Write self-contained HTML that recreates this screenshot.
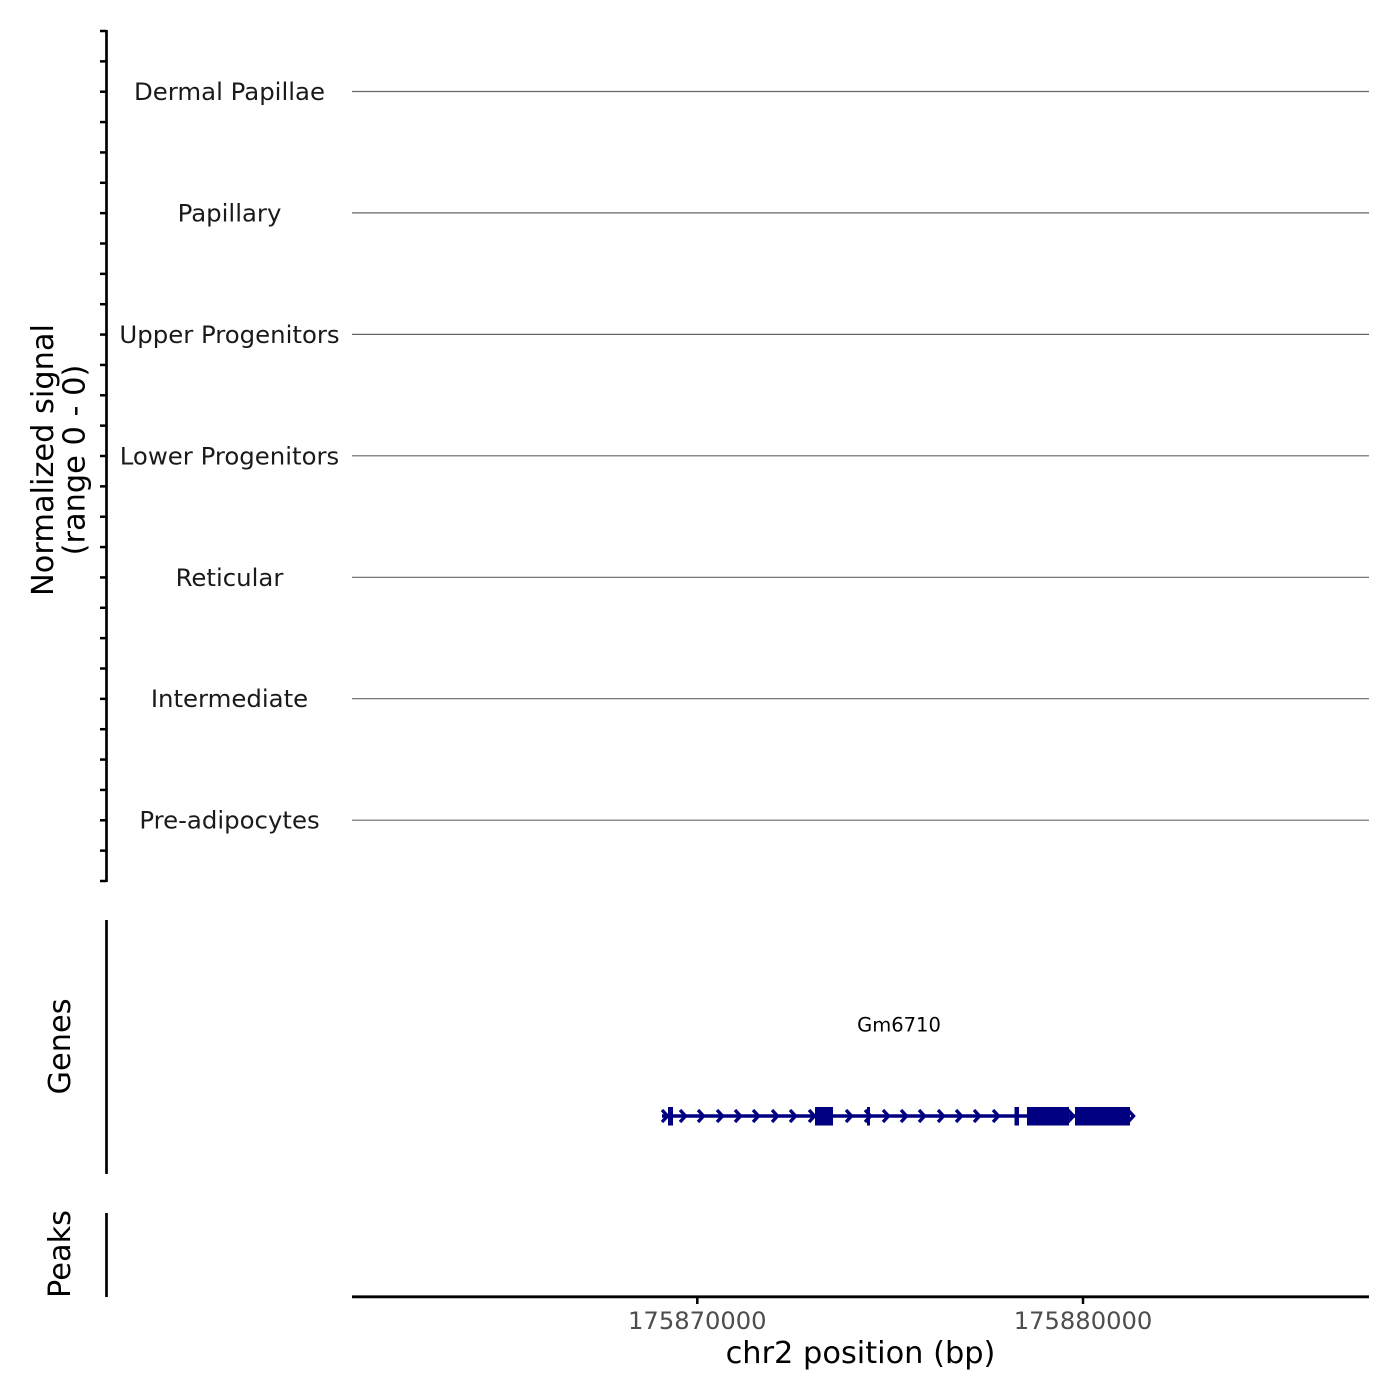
<!DOCTYPE html>
<html>
<head>
<meta charset="utf-8">
<style>
html,body{margin:0;padding:0;background:#fff;}
svg{display:block;}
text{font-family:"DejaVu Sans","Liberation Sans",sans-serif;}
</style>
</head>
<body>
<svg width="1400" height="1400" viewBox="0 0 1400 1400" xmlns="http://www.w3.org/2000/svg">
<rect width="1400" height="1400" fill="#fff"/>

<!-- Signal axis -->
<line x1="106.5" y1="30" x2="106.5" y2="882" stroke="#000" stroke-width="2.7"/>
<g stroke="#000" stroke-width="2.5">
<line x1="100" y1="31" x2="106.5" y2="31"/>
<line x1="100" y1="61.36" x2="106.5" y2="61.36"/>
<line x1="100" y1="91.71" x2="106.5" y2="91.71"/>
<line x1="100" y1="122.07" x2="106.5" y2="122.07"/>
<line x1="100" y1="152.43" x2="106.5" y2="152.43"/>
<line x1="100" y1="182.79" x2="106.5" y2="182.79"/>
<line x1="100" y1="213.14" x2="106.5" y2="213.14"/>
<line x1="100" y1="243.5" x2="106.5" y2="243.5"/>
<line x1="100" y1="273.86" x2="106.5" y2="273.86"/>
<line x1="100" y1="304.21" x2="106.5" y2="304.21"/>
<line x1="100" y1="334.57" x2="106.5" y2="334.57"/>
<line x1="100" y1="364.93" x2="106.5" y2="364.93"/>
<line x1="100" y1="395.29" x2="106.5" y2="395.29"/>
<line x1="100" y1="425.64" x2="106.5" y2="425.64"/>
<line x1="100" y1="456" x2="106.5" y2="456"/>
<line x1="100" y1="486.36" x2="106.5" y2="486.36"/>
<line x1="100" y1="516.71" x2="106.5" y2="516.71"/>
<line x1="100" y1="547.07" x2="106.5" y2="547.07"/>
<line x1="100" y1="577.43" x2="106.5" y2="577.43"/>
<line x1="100" y1="607.79" x2="106.5" y2="607.79"/>
<line x1="100" y1="638.14" x2="106.5" y2="638.14"/>
<line x1="100" y1="668.5" x2="106.5" y2="668.5"/>
<line x1="100" y1="698.86" x2="106.5" y2="698.86"/>
<line x1="100" y1="729.21" x2="106.5" y2="729.21"/>
<line x1="100" y1="759.57" x2="106.5" y2="759.57"/>
<line x1="100" y1="789.93" x2="106.5" y2="789.93"/>
<line x1="100" y1="820.29" x2="106.5" y2="820.29"/>
<line x1="100" y1="850.64" x2="106.5" y2="850.64"/>
<line x1="100" y1="881" x2="106.5" y2="881"/>
</g>

<!-- Y title -->
<g transform="translate(0,460) rotate(-90)" font-size="30.4" fill="#000" text-anchor="middle">
<text x="0" y="53">Normalized signal</text>
<text x="0" y="84.5">(range 0 - 0)</text>
</g>

<!-- Track lines -->
<g stroke="#666" stroke-width="1.2">
<line x1="352" y1="91.5" x2="1369" y2="91.5"/>
<line x1="352" y1="212.9" x2="1369" y2="212.9"/>
<line x1="352" y1="334.4" x2="1369" y2="334.4"/>
<line x1="352" y1="455.8" x2="1369" y2="455.8"/>
<line x1="352" y1="577.3" x2="1369" y2="577.3"/>
<line x1="352" y1="698.7" x2="1369" y2="698.7"/>
<line x1="352" y1="820.2" x2="1369" y2="820.2"/>
</g>

<!-- Track labels -->
<g font-size="24.4" fill="#1a1a1a" text-anchor="middle">
<text x="229.5" y="100">Dermal Papillae</text>
<text x="229.5" y="221.4">Papillary</text>
<text x="229.5" y="342.9">Upper Progenitors</text>
<text x="229.5" y="464.3">Lower Progenitors</text>
<text x="229.5" y="585.8">Reticular</text>
<text x="229.5" y="707.2">Intermediate</text>
<text x="229.5" y="828.7">Pre-adipocytes</text>
</g>

<!-- Genes track -->
<line x1="106.5" y1="920" x2="106.5" y2="1174" stroke="#000" stroke-width="2.7"/>
<g transform="translate(0,1046.5) rotate(-90)" font-size="30.4" fill="#000" text-anchor="middle">
<text x="0" y="70">Genes</text>
</g>
<text x="899" y="1031.5" font-size="19.5" fill="#000" text-anchor="middle">Gm6710</text>

<line x1="662" y1="1116" x2="1130" y2="1116" stroke="#000080" stroke-width="3.4"/>
<g fill="#000080" stroke="none">
<rect x="668" y="1107" width="5" height="18.5"/>
<rect x="815" y="1107" width="18" height="18.5"/>
<rect x="867" y="1107" width="3" height="18.5"/>
<rect x="1014.5" y="1107" width="4.5" height="18.5"/>
<rect x="1027" y="1107" width="42" height="18.5"/>
<rect x="1075" y="1107" width="55" height="18.5"/>
</g>
<g fill="none" stroke="#000080" stroke-width="3.4" stroke-linejoin="miter" stroke-linecap="butt">
<polyline points="662,1110 667.5,1116 662,1122"/>
<polyline points="680,1110 685.5,1116 680,1122"/>
<polyline points="698,1110 703.5,1116 698,1122"/>
<polyline points="717,1110 722.5,1116 717,1122"/>
<polyline points="735,1110 740.5,1116 735,1122"/>
<polyline points="753,1110 758.5,1116 753,1122"/>
<polyline points="772,1110 777.5,1116 772,1122"/>
<polyline points="790,1110 795.5,1116 790,1122"/>
<polyline points="809,1110 814.5,1116 809,1122"/>
<polyline points="846,1110 851.5,1116 846,1122"/>
<polyline points="865,1110 870.5,1116 865,1122"/>
<polyline points="883,1110 888.5,1116 883,1122"/>
<polyline points="901,1110 906.5,1116 901,1122"/>
<polyline points="919,1110 924.5,1116 919,1122"/>
<polyline points="938,1110 943.5,1116 938,1122"/>
<polyline points="956,1110 961.5,1116 956,1122"/>
<polyline points="974,1110 979.5,1116 974,1122"/>
<polyline points="993,1110 998.5,1116 993,1122"/>
<polyline points="1068,1110 1073.5,1116 1068,1122"/>
<polyline points="1128,1110 1133.5,1116 1128,1122"/>
</g>

<!-- Peaks track -->
<line x1="106.5" y1="1213" x2="106.5" y2="1297" stroke="#000" stroke-width="2.7"/>
<g transform="translate(0,1254) rotate(-90)" font-size="30.4" fill="#000" text-anchor="middle">
<text x="0" y="70">Peaks</text>
</g>

<!-- X axis -->
<line x1="352" y1="1296.8" x2="1369" y2="1296.8" stroke="#000" stroke-width="2.8"/>
<g stroke="#000" stroke-width="2.5">
<line x1="697.3" y1="1297" x2="697.3" y2="1304"/>
<line x1="1083" y1="1297" x2="1083" y2="1304"/>
</g>
<g font-size="24.2" fill="#4d4d4d" text-anchor="middle">
<text x="697.3" y="1329">175870000</text>
<text x="1083" y="1329">175880000</text>
</g>
<text x="860.5" y="1363" font-size="30.4" fill="#000" text-anchor="middle">chr2 position (bp)</text>
</svg>
</body>
</html>
